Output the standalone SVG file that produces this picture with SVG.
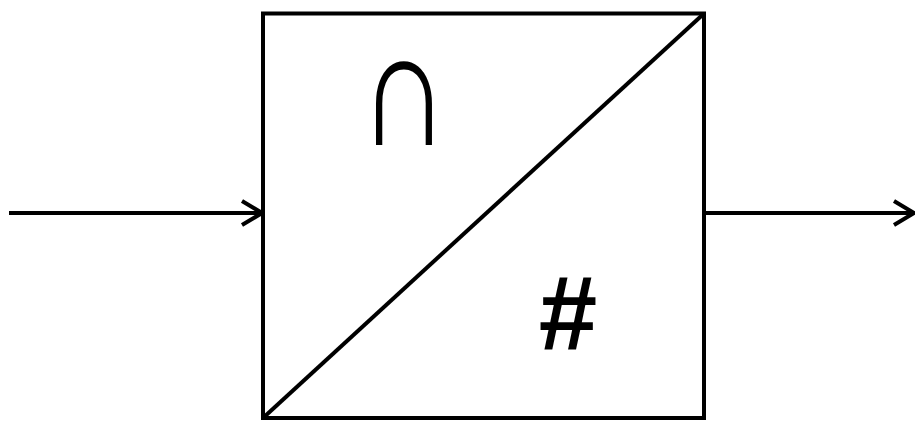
<svg xmlns="http://www.w3.org/2000/svg" width="915" height="422" viewBox="0 0 915 422">
<style>
.ln{stroke:#000;stroke-width:4;fill:none}
.sym{font-family:"Liberation Sans","DejaVu Sans",sans-serif;fill:#000}
</style>
<defs>
<marker id="ah" markerUnits="userSpaceOnUse" viewBox="0 0 24 30" refX="22" refY="15" markerWidth="24" markerHeight="30" orient="auto">
<path d="M2,3 L22,15 L2,27" fill="none" stroke="#000" stroke-width="4"/>
</marker>
</defs>
<rect width="915" height="422" fill="#fff"/>
<g id="connectors">
<line class="ln" x1="9" y1="213" x2="262" y2="213" marker-end="url(#ah)"/>
<line class="ln" x1="706" y1="213" x2="914" y2="213" marker-end="url(#ah)"/>
</g>
<g id="block">
<rect class="ln" x="263" y="13.5" width="441" height="404.5"/>
<line class="ln" x1="263" y1="418" x2="704" y2="13.5"/>
<text class="sym" transform="translate(404,145) scale(1.25,1.66)" font-size="100" text-anchor="middle" font-family="DejaVu Sans">∩</text>
<text class="sym" x="568" y="350" font-size="105" font-weight="bold" text-anchor="middle">#</text>
</g>
</svg>
